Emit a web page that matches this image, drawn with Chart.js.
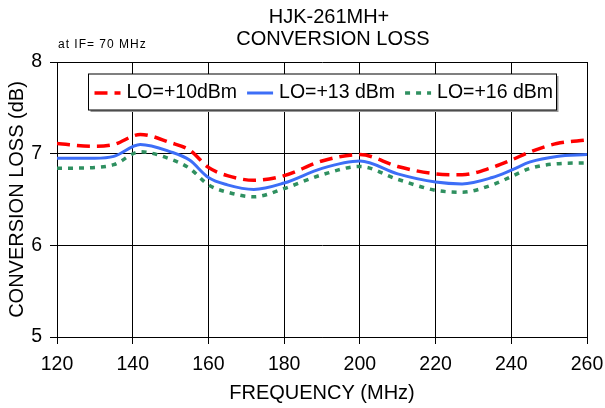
<!DOCTYPE html>
<html>
<head>
<meta charset="utf-8">
<script src="https://cdn.jsdelivr.net/npm/chart.js@4/dist/chart.umd.min.js"></script>
<style>
  html, body { margin: 0; padding: 0; background: #fff; }
  #wrap { width: 605px; height: 408px; }
</style>
</head>
<body>
<div id="wrap"><canvas id="chart"></canvas></div>
<script>
// data
var freqs = [120, 130, 135, 142, 150, 155, 160, 165, 172, 180, 190, 200, 210, 220, 227, 235, 240, 245, 252, 260];
var lo10 = [7.11, 7.08, 7.10, 7.21, 7.12, 7.04, 6.85, 6.76, 6.71, 6.76, 6.92, 6.99, 6.86, 6.78, 6.77, 6.85, 6.93, 7.02, 7.11, 7.15];
var lo13 = [6.95, 6.95, 6.97, 7.10, 7.02, 6.93, 6.74, 6.66, 6.61, 6.68, 6.84, 6.92, 6.78, 6.69, 6.67, 6.74, 6.82, 6.91, 6.97, 6.99];
var lo16 = [6.84, 6.85, 6.88, 7.02, 6.94, 6.84, 6.66, 6.58, 6.53, 6.62, 6.77, 6.86, 6.72, 6.60, 6.58, 6.66, 6.75, 6.84, 6.89, 6.90];
var seriesLabels = ['LO=+10dBm', 'LO=+13 dBm', 'LO=+16 dBm'];
var xTicks = [120, 140, 160, 180, 200, 220, 240, 260];
var yTicks = [5, 6, 7, 8];
var titleLines = ['HJK-261MH+', 'CONVERSION LOSS'];
var subNote = 'at IF= 70 MHz';

var FONT = '"Liberation Sans", Arial, sans-serif';

function pts(ys) {
  return freqs.map(function (f, i) { return { x: f, y: ys[i] }; });
}

// title, note and the boxed legend inside the plot
var decor = {
  id: 'decor',
  afterDatasetsDraw: function (chart) {
    var ctx = chart.ctx;
    var area = chart.chartArea;
    ctx.save();
    ctx.fillStyle = '#000';
    ctx.textBaseline = 'middle';
    ctx.textAlign = 'center';
    ctx.font = '20px ' + FONT;
    ctx.fillText(titleLines[0], 329, 17);
    ctx.fillText(titleLines[1], 333, 39);

    ctx.textAlign = 'left';
    ctx.font = '12px ' + FONT;
    ctx.letterSpacing = '1px';
    ctx.fillText(subNote, 58, 45);
    ctx.letterSpacing = '0px';

    // legend box
    var bx = area.left + 31.5, by = area.top + 12, bw = 468, bh = 36;
    ctx.fillStyle = '#999';
    ctx.fillRect(bx + 2, by + 2, bw, bh);
    ctx.fillStyle = '#fff';
    ctx.fillRect(bx, by, bw, bh);
    ctx.strokeStyle = '#000';
    ctx.lineWidth = 1;
    ctx.strokeRect(bx, by, bw, bh);

    ctx.font = '19.5px ' + FONT;
    var x = bx + 4;
    var cy = by + 19;
    chart.data.datasets.forEach(function (ds) {
      ctx.save();
      ctx.strokeStyle = ds.borderColor;
      ctx.lineWidth = ds.borderWidth;
      ctx.setLineDash(ds.borderDash || []);
      ctx.beginPath();
      ctx.moveTo(x + 2, cy);
      ctx.lineTo(x + 28, cy);
      ctx.stroke();
      ctx.restore();
      ctx.fillStyle = '#000';
      ctx.fillText(ds.label, x + 34, cy);
      x += 34 + ctx.measureText(ds.label).width + 8;
    });
    ctx.restore();
  }
};

var ctx = document.getElementById('chart').getContext('2d');
new Chart(ctx, {
  type: 'line',
  data: {
    datasets: [{
      label: seriesLabels[0],
      data: pts(lo10),
      borderColor: '#ff0000',
      borderWidth: 3.5,
      borderDash: [13, 7]
    }, {
      label: seriesLabels[1],
      data: pts(lo13),
      borderColor: '#3d6ef7',
      borderWidth: 3
    }, {
      label: seriesLabels[2],
      data: pts(lo16),
      borderColor: '#2f9060',
      borderWidth: 3.5,
      borderDash: [5, 6]
    }]
  },
  options: {
    responsive: true,
    maintainAspectRatio: false,
    animation: false,
    layout: { padding: { top: 62, right: 18, bottom: 0, left: 0 } },
    elements: {
      point: { radius: 0 },
      line: { cubicInterpolationMode: 'monotone', fill: false }
    },
    plugins: {
      legend: { display: false },
      title: { display: false },
      tooltip: { enabled: false }
    },
    scales: {
      x: {
        type: 'linear',
        min: 120,
        max: 260,
        afterBuildTicks: function (s) { s.ticks = xTicks.map(function (v) { return { value: v }; }); },
        afterFit: function (s) { s.height = 71; s.paddingLeft = 0; s.paddingRight = 0; },
        grid: { color: '#000', lineWidth: 1, tickLength: 7 },
        border: { color: '#000', width: 1 },
        ticks: { color: '#000', font: { family: FONT, size: 19.5 }, padding: 9, maxRotation: 0 },
        title: {
          display: true,
          text: 'FREQUENCY (MHz)',
          color: '#000',
          font: { family: FONT, size: 20 },
          padding: { top: 0, bottom: 3 }
        }
      },
      y: {
        min: 5,
        max: 8,
        afterBuildTicks: function (s) { s.ticks = yTicks.map(function (v) { return { value: v }; }); },
        afterFit: function (s) { s.width = 57; s.paddingTop = 0; s.paddingBottom = 0; },
        grid: { color: '#000', lineWidth: 1, tickLength: 7 },
        border: { color: '#000', width: 1 },
        ticks: { color: '#000', font: { family: FONT, size: 19.5 }, padding: 8 },
        title: {
          display: true,
          text: 'CONVERSION LOSS (dB)',
          color: '#000',
          font: { family: FONT, size: 20 },
          padding: { top: 5.5, bottom: 0 }
        }
      }
    }
  },
  plugins: [decor]
});
</script>
</body>
</html>
